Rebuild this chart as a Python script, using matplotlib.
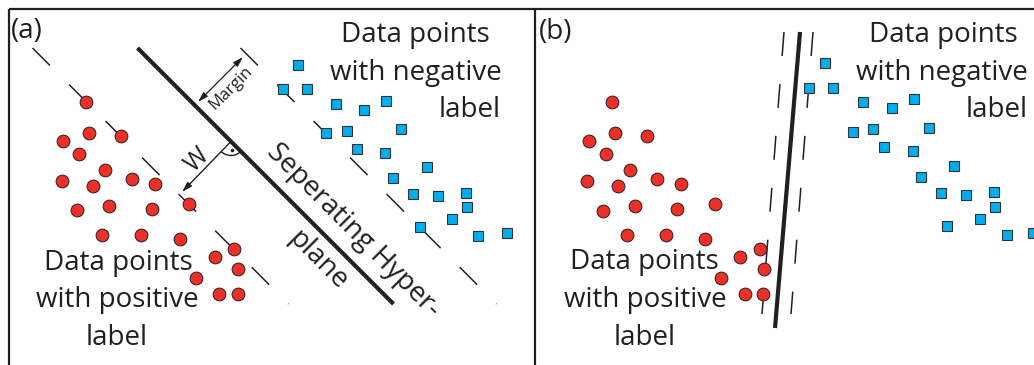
import numpy as np
import matplotlib
matplotlib.use("Agg")
import matplotlib.pyplot as plt
from matplotlib.patches import Arc, FancyArrowPatch

plt.rcParams["font.family"] = ["Open Sans", "DejaVu Sans"]
plt.rcParams["lines.scale_dashes"] = False

INK = "#231f20"
RED = "#ec3027"
BLUE = "#00aeef"

# panel (a) points, pixel positions
pos_a_x = [86, 89, 121, 63, 79, 105, 62, 93, 132, 155, 77, 109, 152, 189, 102, 141, 180, 234, 215, 238, 196, 219, 238]
pos_a_y = [102, 133, 136, 141, 154, 170, 181, 186, 179, 184, 210, 206, 209, 204, 235, 235, 239, 249, 257, 269, 278, 294, 294]
neg_a_x = [298, 283, 307, 336, 364, 386, 326, 347, 401, 357, 385, 427, 393, 413, 438, 466, 467, 452, 420, 478, 507]
neg_a_y = [65, 89, 89, 104, 110, 101, 133, 131, 129, 149, 153, 167, 178, 194, 196, 193, 207, 219, 227, 236, 233]

# panel (b) points
pos_b_x = [612, 615, 647, 589, 606, 630, 587, 618, 657, 681, 603, 635, 677, 715, 627, 666, 705, 760, 740, 764, 721, 745, 763]
pos_b_y = [102, 133, 136, 141, 154, 170, 181, 186, 179, 184, 211, 206, 209, 204, 235, 235, 239, 249, 257, 269, 278, 294, 294]
neg_b_x = [825, 809, 833, 863, 892, 914, 853, 873, 929, 884, 913, 954, 921, 941, 966, 994, 995, 980, 947, 1007, 1033]
neg_b_y = [63, 88, 88, 102, 108, 99, 132, 129, 128, 147, 151, 166, 177, 193, 195, 192, 207, 219, 226, 235, 233]

# separating lines in (a): y = x + c, drawn between y_top and y_bot
a_offsets = [15.5, -89.5, -192.5]
a_styles = ["dash", "solid", "dash"]
a_y_top, a_y_bot = 48, 304

# separating lines in (b): endpoints (x_top, y_top, x_bot, y_bot)
b_lines = [(784, 32, 762, 314), (800, 32, 775, 328), (813, 32, 791, 314)]
b_styles = ["dash", "solid", "dash"]

fig = plt.figure(figsize=(10.34, 3.65), dpi=100)
ax = fig.add_axes([0, 0, 1, 1])
ax.set_xlim(0, 1034)
ax.set_ylim(365, 0)
ax.set_aspect("equal")
ax.axis("off")

# frame
ax.plot([8.5, 1034], [9, 9], color=INK, lw=1.6, solid_capstyle="butt")
ax.plot([8.5, 8.5], [9, 365], color=INK, lw=1.6, solid_capstyle="butt")
ax.plot([535, 535], [9, 365], color=INK, lw=1.6, solid_capstyle="butt")

# (a) hyperplane and margins
for c, st in zip(a_offsets, a_styles):
    xs = [a_y_top - c, a_y_bot - c]
    ys = [a_y_top, a_y_bot]
    if st == "solid":
        ax.plot(xs, ys, color=INK, lw=3.0, solid_capstyle="butt", zorder=2)
    else:
        ax.plot(xs, ys, color=INK, lw=1.1, dashes=(17.8, 19.4), dash_capstyle="butt", zorder=2)

# (b) hyperplane and margins
for (x0, y0, x1, y1), st in zip(b_lines, b_styles):
    if st == "solid":
        ax.plot([x0, x1], [y0, y1], color=INK, lw=3.0, solid_capstyle="butt", zorder=2)
    else:
        ax.plot([x0, x1], [y0, y1], color=INK, lw=1.1, dashes=(17.3, 20.2), dash_capstyle="butt", zorder=2)

for px, py in [(pos_a_x, pos_a_y), (pos_b_x, pos_b_y)]:
    ax.plot(px, py, "o", ms=9.2, mfc=RED, mec=INK, mew=0.7, ls="none", zorder=3)
for nx, ny in [(neg_a_x, neg_a_y), (neg_b_x, neg_b_y)]:
    ax.plot(nx, ny, "s", ms=7.4, mfc=BLUE, mec="#333333", mew=0.8, ls="none", zorder=3)

# margin arrow
ax.add_patch(FancyArrowPatch((198, 102), (243, 57), arrowstyle="<|-|>,head_length=0.6,head_width=0.18",
                             mutation_scale=10, color=INK, lw=0.9, shrinkA=0, shrinkB=0))
ax.text(231, 88, "Margin", rotation=45, rotation_mode="anchor", ha="center", va="center",
        fontsize=12, color=INK)

# normal vector w with right-angle mark
ax.add_patch(FancyArrowPatch((231, 141.5), (182, 192), arrowstyle="-|>,head_length=0.6,head_width=0.18",
                             mutation_scale=10, color=INK, lw=1.0, shrinkA=0, shrinkB=0))
ax.add_patch(Arc((231, 141.5), 28, 28, theta1=45, theta2=135, color=INK, lw=1.0))
ax.plot([232], [150], "o", ms=1.5, color=INK)
ax.text(197, 160, "W", rotation=45, rotation_mode="anchor", ha="center", va="center",
        fontsize=18, color=INK)

ax.text(353, 231, "Seperating Hyper-", rotation=-45, rotation_mode="anchor", ha="center", va="center",
        fontsize=20, color=INK)
ax.text(318, 261, "plane", rotation=-45, rotation_mode="anchor", ha="center", va="center",
        fontsize=20, color=INK)

fs = 20
ax.text(11, 38, "(a)", fontsize=fs, color=INK, ha="left", va="baseline")
ax.text(539, 39, "(b)", fontsize=fs, color=INK, ha="left", va="baseline")

ax.text(118, 270, "Data points", fontsize=fs, color=INK, ha="center", va="baseline")
ax.text(117, 307, "with positive", fontsize=fs, color=INK, ha="center", va="baseline")
ax.text(117, 345, "label", fontsize=fs, color=INK, ha="center", va="baseline")
ax.text(415, 42, "Data points", fontsize=fs, color=INK, ha="center", va="baseline")
ax.text(416, 80, "with negative", fontsize=fs, color=INK, ha="center", va="baseline")
ax.text(470, 117, "label", fontsize=fs, color=INK, ha="center", va="baseline")

ax.text(644, 269, "Data points", fontsize=fs, color=INK, ha="center", va="baseline")
ax.text(645, 307, "with positive", fontsize=fs, color=INK, ha="center", va="baseline")
ax.text(645, 345, "label", fontsize=fs, color=INK, ha="center", va="baseline")
ax.text(943, 42, "Data points", fontsize=fs, color=INK, ha="center", va="baseline")
ax.text(942, 80, "with negative", fontsize=fs, color=INK, ha="center", va="baseline")
ax.text(997, 117, "label", fontsize=fs, color=INK, ha="center", va="baseline")

fig.savefig("out.png", dpi=100)
